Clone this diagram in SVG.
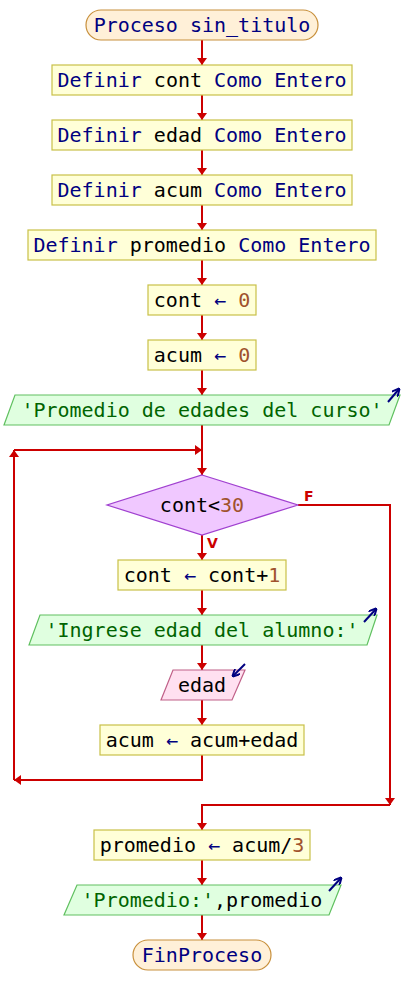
<svg xmlns="http://www.w3.org/2000/svg" width="404" height="1005" viewBox="0 0 404 1005">
<style>
text{font-family:"DejaVu Sans Mono","Liberation Mono",monospace;font-size:20px;text-anchor:middle;fill:#000}
.kw{fill:#000080}
.num{fill:#a0522d}
.str{fill:#006400}
.op{fill:#000080}
.term{fill:#fff0d8;stroke:#c8903c;stroke-width:1.2}
.proc{fill:#ffffd8;stroke:#c8c048;stroke-width:1.2}
.out{fill:#e0ffe0;stroke:#60c060;stroke-width:1.2}
.in{fill:#ffe0f0;stroke:#c06088;stroke-width:1.2}
.dec{fill:#f0c8ff;stroke:#a040d0;stroke-width:1.2}
.c{fill:none;stroke:#cc0000;stroke-width:2}
.ico{fill:none;stroke:#000080;stroke-width:2}
.lbl{font-family:"DejaVu Sans","Liberation Sans",sans-serif;font-size:14px;font-weight:bold;fill:#cc0000;text-anchor:start}
</style>
<defs>
<marker id="ah" viewBox="0 0 7 10" refX="7" refY="5" markerWidth="7" markerHeight="10" markerUnits="userSpaceOnUse" orient="auto">
<path d="M0,0 L7,5 L0,10 z" fill="#cc0000"/>
</marker>
<marker id="ib" viewBox="0 0 8 8" refX="7" refY="4" markerWidth="8" markerHeight="8" markerUnits="userSpaceOnUse" orient="auto">
<path d="M0,0 L8,4 L0,8" fill="none" stroke="#000080" stroke-width="2"/>
</marker>
</defs>
<g id="connectors">
<line class="c" x1="202" y1="40" x2="202" y2="65" marker-end="url(#ah)"/>
<line class="c" x1="202" y1="95" x2="202" y2="120" marker-end="url(#ah)"/>
<line class="c" x1="202" y1="150" x2="202" y2="175" marker-end="url(#ah)"/>
<line class="c" x1="202" y1="205" x2="202" y2="230" marker-end="url(#ah)"/>
<line class="c" x1="202" y1="260" x2="202" y2="285" marker-end="url(#ah)"/>
<line class="c" x1="202" y1="315" x2="202" y2="340" marker-end="url(#ah)"/>
<line class="c" x1="202" y1="370" x2="202" y2="395" marker-end="url(#ah)"/>
<line class="c" x1="202" y1="425" x2="202" y2="475" marker-end="url(#ah)"/>
<line class="c" x1="202" y1="535" x2="202" y2="560" marker-end="url(#ah)"/>
<line class="c" x1="202" y1="590" x2="202" y2="615" marker-end="url(#ah)"/>
<line class="c" x1="202" y1="645" x2="202" y2="670" marker-end="url(#ah)"/>
<line class="c" x1="202" y1="700" x2="202" y2="725" marker-end="url(#ah)"/>
<polyline class="c" points="202,755 202,780 14,780" marker-end="url(#ah)"/>
<line class="c" x1="14" y1="780" x2="14" y2="450" marker-end="url(#ah)"/>
<line class="c" x1="14" y1="450" x2="202" y2="450" marker-end="url(#ah)"/>
<polyline class="c" points="298,505 390,505 390,805" marker-end="url(#ah)"/>
<polyline class="c" points="390,805 202,805 202,830" marker-end="url(#ah)"/>
<line class="c" x1="202" y1="860" x2="202" y2="885" marker-end="url(#ah)"/>
<line class="c" x1="202" y1="915" x2="202" y2="940" marker-end="url(#ah)"/>
<text class="lbl" x="304" y="501">F</text>
<text class="lbl" x="207" y="548">V</text>
</g>
<g id="n_inicio">
<rect class="term" x="86" y="10" width="232" height="30" rx="15" ry="15"/>
<text x="202" y="32.3"><tspan class="kw">Proceso sin_titulo</tspan></text>
</g>
<g id="n_def_cont">
<rect class="proc" x="52" y="65" width="300" height="30"/>
<text x="202" y="87.3"><tspan class="kw">Definir</tspan> cont <tspan class="kw">Como Entero</tspan></text>
</g>
<g id="n_def_edad">
<rect class="proc" x="52" y="120" width="300" height="30"/>
<text x="202" y="142.3"><tspan class="kw">Definir</tspan> edad <tspan class="kw">Como Entero</tspan></text>
</g>
<g id="n_def_acum">
<rect class="proc" x="52" y="175" width="300" height="30"/>
<text x="202" y="197.3"><tspan class="kw">Definir</tspan> acum <tspan class="kw">Como Entero</tspan></text>
</g>
<g id="n_def_promedio">
<rect class="proc" x="28" y="230" width="348" height="30"/>
<text x="202" y="252.3"><tspan class="kw">Definir</tspan> promedio <tspan class="kw">Como Entero</tspan></text>
</g>
<g id="n_cont0">
<rect class="proc" x="148" y="285" width="108" height="30"/>
<text x="202" y="307.3">cont <tspan class="op">←</tspan> <tspan class="num">0</tspan></text>
</g>
<g id="n_acum0">
<rect class="proc" x="148" y="340" width="108" height="30"/>
<text x="202" y="362.3">acum <tspan class="op">←</tspan> <tspan class="num">0</tspan></text>
</g>
<g id="n_esc1">
<polygon class="out" points="15,395 400,395 389,425 4,425"/>
<line class="ico" x1="388" y1="402" x2="399" y2="389" marker-end="url(#ib)"/>
<text x="202" y="417.3"><tspan class="str">'Promedio de edades del curso'</tspan></text>
</g>
<g id="n_mientras">
<polygon class="dec" points="202,475 298,505 202,535 107,505"/>
<text x="202" y="512.3">cont&lt;<tspan class="num">30</tspan></text>
</g>
<g id="n_inc">
<rect class="proc" x="118" y="560" width="168" height="30"/>
<text x="202" y="582.3">cont <tspan class="op">←</tspan> cont+<tspan class="num">1</tspan></text>
</g>
<g id="n_esc2">
<polygon class="out" points="40,615 377,615 367,645 29,645"/>
<line class="ico" x1="364" y1="622" x2="376" y2="609" marker-end="url(#ib)"/>
<text x="202" y="637.3"><tspan class="str">'Ingrese edad del alumno:'</tspan></text>
</g>
<g id="n_leer">
<polygon class="in" points="173,670 245,670 232,700 161,700"/>
<line class="ico" x1="245" y1="664" x2="233" y2="676" marker-end="url(#ib)"/>
<text x="202" y="692.3">edad</text>
</g>
<g id="n_acum">
<rect class="proc" x="100" y="725" width="204" height="30"/>
<text x="202" y="747.3">acum <tspan class="op">←</tspan> acum+edad</text>
</g>
<g id="n_prom">
<rect class="proc" x="94" y="830" width="216" height="30"/>
<text x="202" y="852.3">promedio <tspan class="op">←</tspan> acum/<tspan class="num">3</tspan></text>
</g>
<g id="n_esc3">
<polygon class="out" points="77,885 341,885 329,915 64,915"/>
<line class="ico" x1="329" y1="891" x2="341" y2="878" marker-end="url(#ib)"/>
<text x="202" y="907.3"><tspan class="str">'Promedio:'</tspan>,promedio</text>
</g>
<g id="n_fin">
<rect class="term" x="133" y="940" width="138" height="30" rx="15" ry="15"/>
<text x="202" y="962.3"><tspan class="kw">FinProceso</tspan></text>
</g>
</svg>
